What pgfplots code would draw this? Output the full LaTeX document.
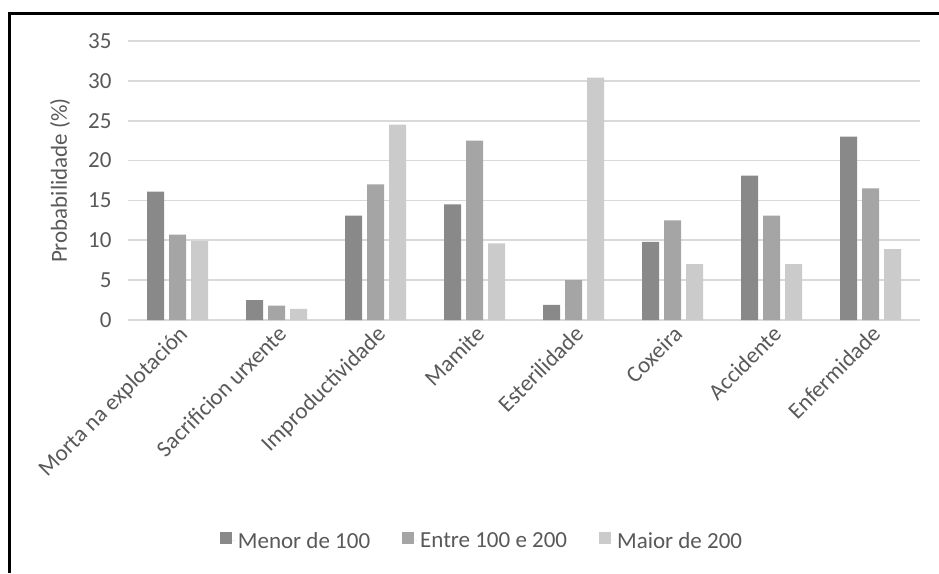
\documentclass[border=0pt]{standalone}
\usepackage{fontspec}
\setmainfont{Carlito}
\usepackage{pgfplots}
\pgfplotsset{compat=1.18}
\definecolor{cA}{HTML}{898989}
\definecolor{cB}{HTML}{A5A5A5}
\definecolor{cC}{HTML}{CBCBCB}
\definecolor{gridc}{HTML}{D9D9D9}
\definecolor{txt}{HTML}{595959}
\begin{document}
\begin{tikzpicture}[x=1pt,y=1pt]
\useasboundingbox (0,0) rectangle (939,573);
\draw[line width=3pt] (9.5,0) -- (9.5,559.5) -- (939,559.5);
\begin{axis}[
  at={(128pt,253pt)}, anchor=south west,
  scale only axis, width=792pt, height=279pt,
  xmin=-0.5, xmax=7.5, ymin=0, ymax=35,
  ybar=5pt, bar width=17pt,
  xtick={0,...,7},
  xticklabels={Morta na explotación,Sacrificion urxente,Improductividade,Mamite,Esterilidade,Coxeira,Accidente,Enfermidade},
  ytick={0,5,...,35},
  ymajorgrids, major grid style={gridc, line width=1.6pt},
  axis line style={draw=none},
  major tick length=0pt,
  tick label style={font=\fontsize{23}{27}\selectfont, text=txt},
  /pgf/number format/assume math mode=true,
  xticklabel style={rotate=45, anchor=north east, inner sep=3pt},
  yticklabel style={xshift=-13pt},
  ylabel={Probabilidade (\%)},
  ylabel style={font=\fontsize{23}{27}\selectfont, text=txt, at={(axis description cs:-0.0859,0.5)}, anchor=center},
  legend style={at={(0.447,-0.792)}, anchor=center, draw=none, legend columns=3,
    font=\fontsize{23}{27}\selectfont, text=txt,
    /tikz/every even column/.append style={column sep=30pt}},
  legend cell align=left,
  legend image code/.code={\draw[#1, draw=none] (0pt,-3pt) rectangle (12pt,9pt); \path (0pt,0pt) -- (16pt,0pt);},
]
\addplot[fill=cA, draw=none] coordinates {(0,16.1) (1,2.5) (2,13.1) (3,14.5) (4,1.9) (5,9.8) (6,18.1) (7,23.0)};
\addplot[fill=cB, draw=none] coordinates {(0,10.7) (1,1.8) (2,17.0) (3,22.5) (4,5.0) (5,12.5) (6,13.1) (7,16.5)};
\addplot[fill=cC, draw=none] coordinates {(0,9.9) (1,1.4) (2,24.5) (3,9.6) (4,30.4) (5,7.0) (6,7.0) (7,8.9)};
\legend{Menor de 100,Entre 100 e 200,Maior de 200}
\end{axis}
\end{tikzpicture}
\end{document}
